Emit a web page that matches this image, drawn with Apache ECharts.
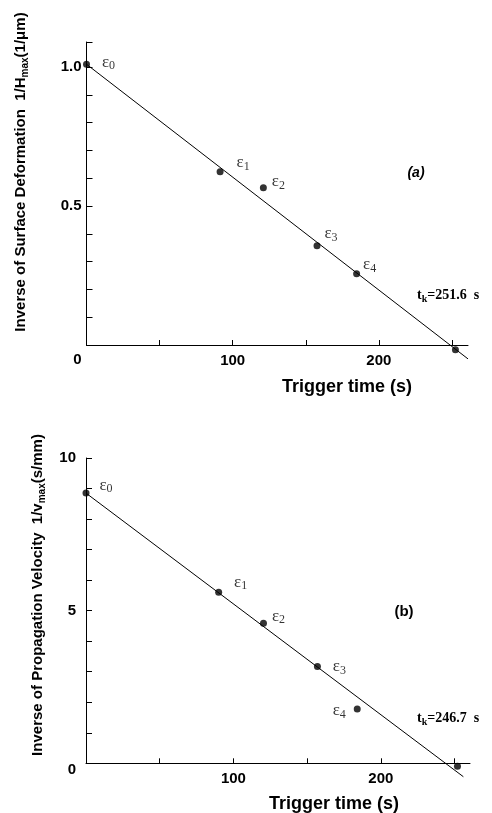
<!DOCTYPE html>
<html>
<head>
<meta charset="utf-8">
<script src="https://cdn.jsdelivr.net/npm/echarts@6/dist/echarts.min.js"></script>
<style>
  html, body { margin: 0; padding: 0; background: #fff; }
  #chart { width: 492px; height: 813px; }
</style>
</head>
<body>
<div id="chart"></div>
<script>
// (a) surface deformation
const timeA = [0, 91.4, 121, 157.7, 184.8, 252.4];
const invHmax = [1.01, 0.623, 0.566, 0.357, 0.256, -0.017];
const fitA = [[0, 1.01], [261, -0.05]];
const yTicksA = ["0", "0.5", "1.0"];

// (b) propagation velocity
const timeB = [0, 90, 120.4, 157, 184, 252];
const invVmax = [8.85, 5.6, 4.59, 3.17, 1.78, -0.1];
const fitB = [[0, 8.85], [256, -0.44]];
const yTicksB = ["0", "5", "10"];

const xTicks = ["100", "200"];
const pointNames = ["0", "1", "2", "3", "4", ""];

// label offsets from each dot (px)
const offA = [[22, -2], [23, -9], [15, -6], [14, -12], [13, -9]];
const offB = [[20, -8], [22, -10], [15, -7], [22, 0], [-18, 2]];

const chart = echarts.init(document.getElementById("chart"));

const sans = "Liberation Sans, Arial, sans-serif";
const serif = "Liberation Serif, Times New Roman, serif";

const epsRich = {
  e: { fontFamily: serif, fontSize: 17, color: "#000" },
  s: { fontFamily: serif, fontSize: 12, color: "#000", padding: [8, 0, 0, 0] },
};

function points(times, vals, offs) {
  return times.map(function (t, i) {
    const item = { value: [t, vals[i]] };
    if (pointNames[i] !== "") {
      item.label = {
        show: true,
        position: "inside",
        offset: offs[i],
        color: "#000",
        textBorderWidth: 0,
        textBorderColor: "transparent",
        formatter: "{e|ε}{s|" + pointNames[i] + "}",
        rich: epsRich,
      };
    }
    return item;
  });
}

function xAxisCfg(gridIndex, max) {
  return {
    type: "value",
    gridIndex: gridIndex,
    min: 0,
    max: max,
    interval: 50,
    splitLine: { show: false },
    axisLine: { lineStyle: { color: "#000", width: 1 } },
    axisTick: { inside: true, length: 5, lineStyle: { color: "#000" } },
    axisLabel: {
      margin: 8,
      fontFamily: sans,
      fontWeight: "bold",
      fontSize: 15,
      color: "#000",
      showMaxLabel: false,
      formatter: function (v) {
        return xTicks.indexOf(String(v)) >= 0 ? String(v) : "";
      },
    },
  };
}

function yAxisCfg(gridIndex, max, interval, ticks, zeroPad, margin) {
  return {
    type: "value",
    gridIndex: gridIndex,
    min: 0,
    max: max,
    interval: interval,
    splitLine: { show: false },
    axisLine: { lineStyle: { color: "#000", width: 1 } },
    axisTick: { inside: true, length: 6, lineStyle: { color: "#000" } },
    axisLabel: {
      margin: margin,
      fontFamily: sans,
      fontWeight: "bold",
      fontSize: 15,
      color: "#000",
      showMaxLabel: true,
      formatter: function (v) {
        const s = Math.abs(v) < 1e-9 ? "0" : (interval < 1 ? v.toFixed(1) : String(Math.round(v)));
        if (ticks.indexOf(s) < 0) return "";
        if (s === "0") return "{z|0}";
        return s;
      },
      rich: {
        z: { fontFamily: sans, fontWeight: "bold", fontSize: 15, color: "#000", padding: [zeroPad, 0, 0, 0] },
      },
    },
  };
}

function subText(x, y, parts, rotate) {
  return {
    type: "text",
    x: x,
    y: y,
    rotation: rotate ? Math.PI / 2 : 0,
    style: {
      text: parts,
      align: "center",
      verticalAlign: "middle",
      fontFamily: sans,
      fontWeight: "bold",
      fontSize: 15,
      fill: "#000",
      rich: {
        m: { fontFamily: sans, fontWeight: "bold", fontSize: 10, fill: "#000", padding: [8, 0, 0, 0] },
      },
    },
  };
}

const option = {
  backgroundColor: "#fff",
  animation: false,
  grid: [
    { left: 86.5, top: 42, width: 381.5, height: 303 },
    { left: 86, top: 458, width: 384, height: 305.3 },
  ],
  xAxis: [xAxisCfg(0, 261), xAxisCfg(1, 260.5)],
  yAxis: [
    yAxisCfg(0, 1.09, 0.1, yTicksA, 30, 5),
    yAxisCfg(1, 10, 1, yTicksB, 14, 10),
  ],
  series: [
    {
      type: "line",
      xAxisIndex: 0,
      yAxisIndex: 0,
      data: fitA,
      symbol: "none",
      clip: false,
      lineStyle: { color: "#000", width: 1 },
    },
    {
      type: "scatter",
      xAxisIndex: 0,
      yAxisIndex: 0,
      data: points(timeA, invHmax, offA),
      symbolSize: 7,
      clip: false,
      itemStyle: { color: "#000" },
    },
    {
      type: "line",
      xAxisIndex: 1,
      yAxisIndex: 1,
      data: fitB,
      symbol: "none",
      clip: false,
      lineStyle: { color: "#000", width: 1 },
    },
    {
      type: "scatter",
      xAxisIndex: 1,
      yAxisIndex: 1,
      data: points(timeB, invVmax, offB),
      symbolSize: 7,
      clip: false,
      itemStyle: { color: "#000" },
    },
  ],
  graphic: [
    subText(21, 172, "Inverse of Surface Deformation  1/H{m|max}(1/μm)", true),
    subText(38, 595, "Inverse of Propagation Velocity  1/v{m|max}(s/mm)", true),
    {
      type: "text", x: 347, y: 387,
      style: { text: "Trigger time (s)", align: "center", verticalAlign: "middle", fontFamily: sans, fontWeight: "bold", fontSize: 18, fill: "#000" },
    },
    {
      type: "text", x: 334, y: 804,
      style: { text: "Trigger time (s)", align: "center", verticalAlign: "middle", fontFamily: sans, fontWeight: "bold", fontSize: 18, fill: "#000" },
    },
    {
      type: "text", x: 416, y: 173,
      style: { text: "(a)", align: "center", verticalAlign: "middle", fontFamily: sans, fontWeight: "bold", fontStyle: "italic", fontSize: 14, fill: "#000" },
    },
    {
      type: "text", x: 404, y: 612,
      style: { text: "(b)", align: "center", verticalAlign: "middle", fontFamily: sans, fontWeight: "bold", fontSize: 15, fill: "#000" },
    },
    {
      type: "text", x: 417, y: 295,
      style: {
        text: "t{k|k}=251.6  s", align: "left", verticalAlign: "middle", fontFamily: serif, fontWeight: "bold", fontSize: 14, fill: "#000",
        rich: { k: { fontFamily: serif, fontWeight: "bold", fontSize: 10, fill: "#000", padding: [8, 0, 0, 0] } },
      },
    },
    {
      type: "text", x: 417, y: 718,
      style: {
        text: "t{k|k}=246.7  s", align: "left", verticalAlign: "middle", fontFamily: serif, fontWeight: "bold", fontSize: 14, fill: "#000",
        rich: { k: { fontFamily: serif, fontWeight: "bold", fontSize: 10, fill: "#000", padding: [8, 0, 0, 0] } },
      },
    },
  ],
};

chart.setOption(option);
</script>
</body>
</html>
